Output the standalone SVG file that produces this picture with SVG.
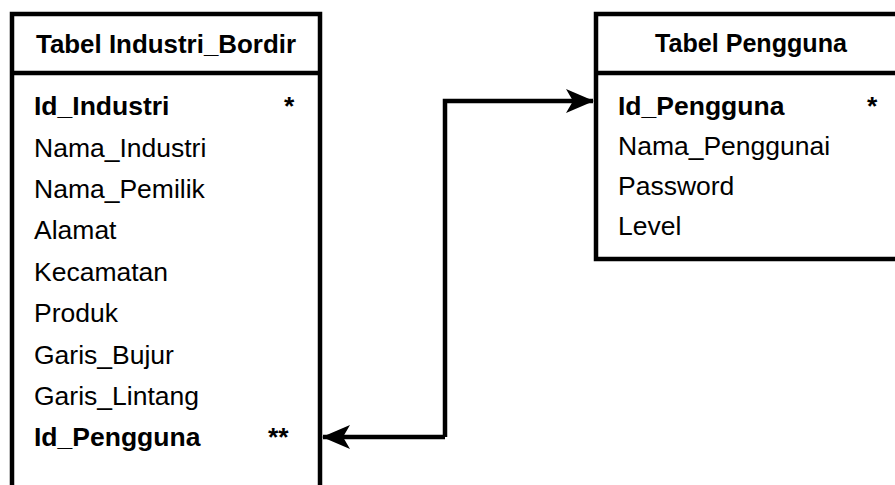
<svg xmlns="http://www.w3.org/2000/svg" width="895" height="485" viewBox="0 0 895 485">
<style>
.box{fill:#fff;stroke:#000;stroke-width:4.5}
.div{stroke:#000;stroke-width:4.5}
text{font-family:"Liberation Sans",Arial,sans-serif;font-size:26.5px;fill:#000}
.b{font-weight:bold}
.h{font-weight:bold;text-anchor:middle}
.conn{fill:none;stroke:#000;stroke-width:4.5;stroke-linejoin:miter}
</style>
<defs>
<marker id="arr" viewBox="0 0 28 28" refX="27" refY="14" markerWidth="28" markerHeight="28" markerUnits="userSpaceOnUse" orient="auto">
<path d="M28,14 L0,2 L7,14 L0,26 Z" fill="#000"/>
</marker>
</defs>
<rect width="895" height="485" fill="#fff"/>
<g id="tabel-industri-bordir">
<rect class="box" x="12" y="14" width="308" height="500"/>
<line class="div" x1="12" y1="73" x2="320" y2="73"/>
<text class="h" x="166" y="53" textLength="260" lengthAdjust="spacingAndGlyphs">Tabel Industri_Bordir</text>
<text class="b" x="34" y="115">Id_Industri</text>
<text class="b" x="284" y="115">*</text>
<text x="34" y="157">Nama_Industri</text>
<text x="34" y="198">Nama_Pemilik</text>
<text x="34" y="239">Alamat</text>
<text x="34" y="281">Kecamatan</text>
<text x="34" y="322">Produk</text>
<text x="34" y="364">Garis_Bujur</text>
<text x="34" y="405">Garis_Lintang</text>
<text class="b" x="34" y="446">Id_Pengguna</text>
<text class="b" x="268" y="446">**</text>
</g>
<g id="tabel-pengguna">
<rect class="box" x="596" y="14" width="320" height="245"/>
<line class="div" x1="596" y1="73" x2="916" y2="73"/>
<text class="h" x="751" y="52" textLength="192" lengthAdjust="spacingAndGlyphs">Tabel Pengguna</text>
<text class="b" x="618" y="115">Id_Pengguna</text>
<text class="b" x="867" y="115">*</text>
<text x="618" y="155">Nama_Penggunai</text>
<text x="618" y="195">Password</text>
<text x="618" y="235">Level</text>
</g>
<g id="connectors">
<path class="conn" d="M445,437 L445,101 L593,101" marker-end="url(#arr)"/>
<path class="conn" d="M445,437 L323,437" marker-end="url(#arr)"/>
</g>
</svg>
